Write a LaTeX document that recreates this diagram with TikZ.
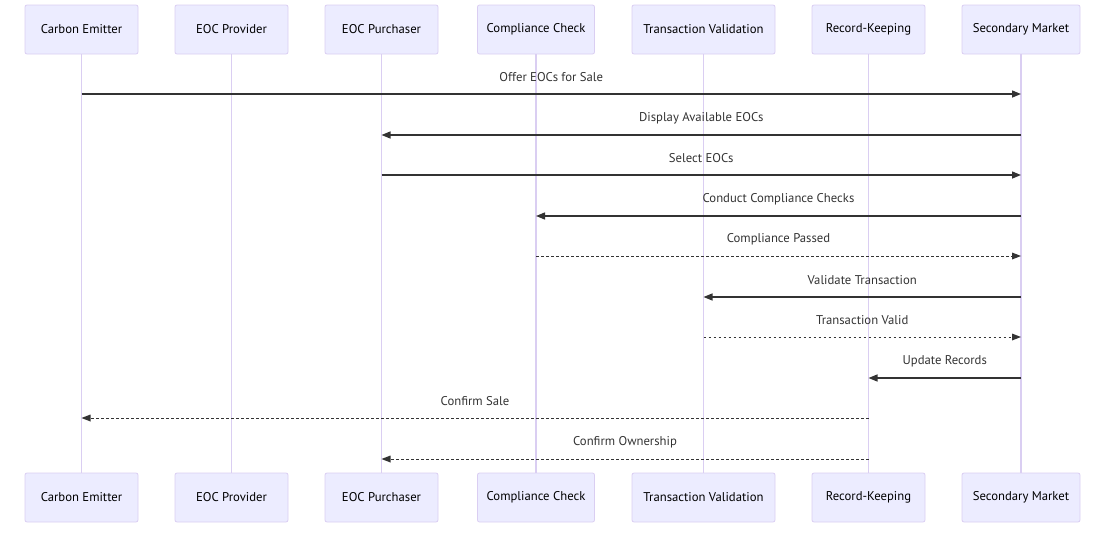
\documentclass[tikz,border=0pt]{standalone}
\usepackage{fontspec}
\setmainfont{PT Sans}
\usetikzlibrary{arrows.meta}
\definecolor{actfill}{HTML}{ECECFF}
\definecolor{actline}{HTML}{DACEF2}
\definecolor{msgcol}{HTML}{333333}
\tikzset{
  actor/.style={draw=actline, fill=actfill, line width=0.8pt, rounded corners=2pt,
    minimum width=113pt, minimum height=49pt, inner sep=0pt, font=\fontsize{12.7}{14}\selectfont, text=black},
  life/.style={draw=actline, line width=1.3pt},
  msg/.style={draw=msgcol, line width=1.4pt, -{Triangle[length=9pt,width=7pt]}},
  ret/.style={msg, line width=1pt, dash pattern=on 2.5pt off 2.5pt, -{Triangle[length=9pt,width=7pt,line width=0pt]}},
  lbl/.style={font=\fontsize{12.7}{14}\selectfont, text=msgcol, inner sep=0pt},
}
\begin{document}
\begin{tikzpicture}[x=1pt,y=-1pt]
\useasboundingbox (0,0) rectangle (1109,533);
% top actors
\node[actor] (a1) at (81.5,29.5) {\raisebox{-1pt}{Carbon Emitter}};
\node[actor] (a2) at (231.5,29.5) {\raisebox{-1pt}{EOC Provider}};
\node[actor] (a3) at (381.5,29.5) {\raisebox{-1pt}{EOC Purchaser}};
\node[actor, minimum width=117pt] (a4) at (536,29.5) {\raisebox{-1pt}{Compliance Check}};
\node[actor, minimum width=143pt] (a5) at (703.5,29.5) {\raisebox{-1pt}{Transaction Validation}};
\node[actor] (a6) at (868.5,29.5) {\raisebox{-1pt}{Record-Keeping}};
\node[actor, minimum width=118pt] (a7) at (1021,29.5) {\raisebox{-1pt}{Secondary Market}};
% bottom actors
\node[actor] (b1) at (81.5,497.5) {\raisebox{-1pt}{Carbon Emitter}};
\node[actor] (b2) at (231.5,497.5) {\raisebox{-1pt}{EOC Provider}};
\node[actor] (b3) at (381.5,497.5) {\raisebox{-1pt}{EOC Purchaser}};
\node[actor, minimum width=117pt] (b4) at (536,497.5) {\raisebox{-1pt}{Compliance Check}};
\node[actor, minimum width=143pt] (b5) at (703.5,497.5) {\raisebox{-1pt}{Transaction Validation}};
\node[actor] (b6) at (868.5,497.5) {\raisebox{-1pt}{Record-Keeping}};
\node[actor, minimum width=118pt] (b7) at (1021,497.5) {\raisebox{-1pt}{Secondary Market}};
% lifelines
\foreach \i in {1,...,7} \draw[life] (a\i.south) -- (b\i.north);
% messages
\foreach \f/\t/\y/\s/\txt in {
  1/7/94/msg/{Offer EOCs for Sale},
  7/3/135/msg/{Display Available EOCs},
  3/7/175/msg/{Select EOCs},
  7/4/216/msg/{Conduct Compliance Checks},
  4/7/256/ret/{Compliance Passed},
  7/5/297/msg/{Validate Transaction},
  5/7/337/ret/{Transaction Valid},
  7/6/378/msg/{Update Records},
  6/1/418/ret/{Confirm Sale},
  6/3/459/ret/{Confirm Ownership}} {
  \coordinate (s\f-\y) at (a\f.south |- 0,\y);
  \coordinate (e\t-\y) at (a\t.south |- 0,\y);
  \draw[\s] (s\f-\y) -- (e\t-\y);
  \path (s\f-\y) -- (e\t-\y) node[midway, lbl, yshift=17pt] {\txt};
}
\end{tikzpicture}
\end{document}
